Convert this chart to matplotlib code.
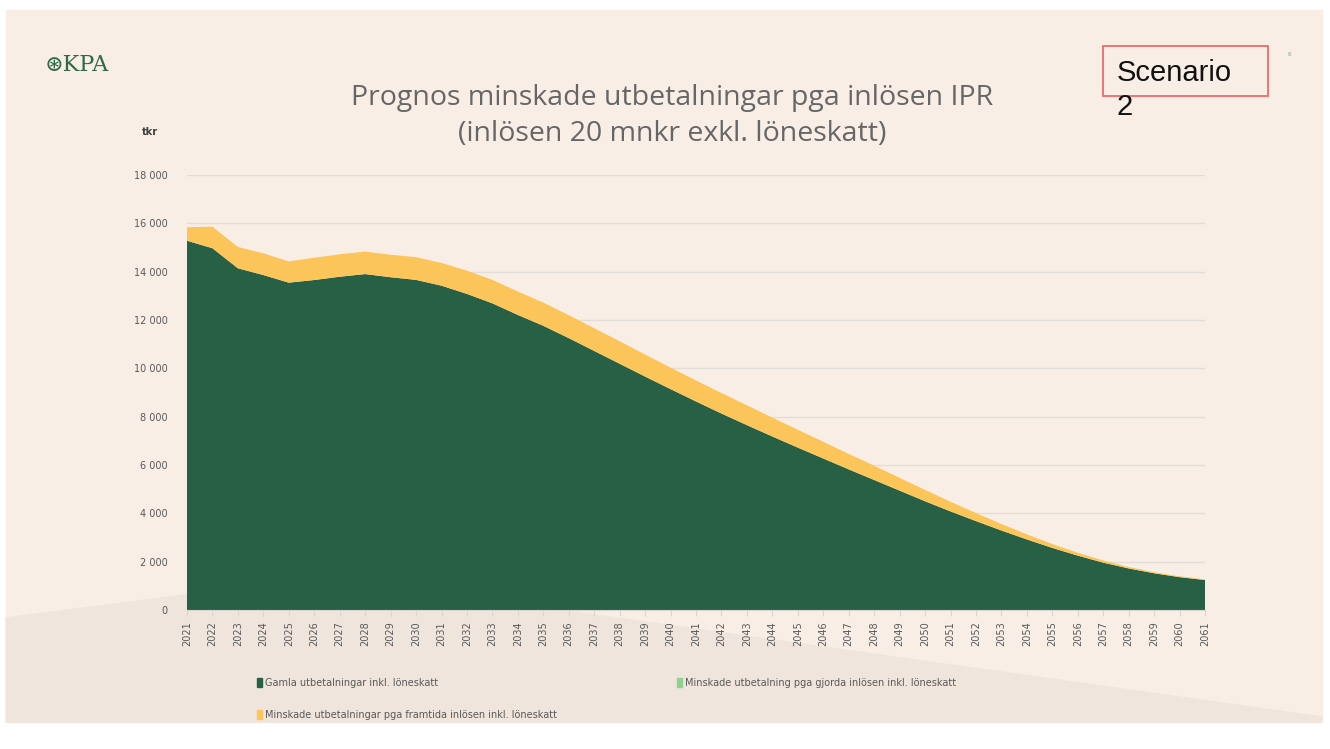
import matplotlib.pyplot as plt
import matplotlib.patches as mpatches
from matplotlib.ticker import FuncFormatter
import numpy as np

# Data (tkr)
years = [str(y) for y in range(2021, 2062)]
gamla = [15280, 14970, 14140, 13860, 13545, 13655, 13790, 13900, 13770, 13660,
         13420, 13080, 12690, 12210, 11760, 11250, 10720, 10190, 9660, 9140,
         8630, 8130, 7650, 7180, 6720, 6270, 5820, 5380, 4940, 4500,
         4080, 3680, 3290, 2920, 2570, 2250, 1960, 1720, 1520, 1360, 1240]
gjorda = [0] * 41
framtida = [560, 890, 880, 900, 880, 920, 930, 930, 930, 940,
            940, 960, 970, 970, 960, 950, 940, 930, 910, 890,
            870, 850, 820, 780, 740, 690, 640, 590, 530, 470,
            400, 330, 270, 210, 160, 120, 90, 60, 45, 35, 25]
labels = ['Gamla utbetalningar inkl. löneskatt',
          'Minskade utbetalning pga gjorda inlösen inkl. löneskatt',
          'Minskade utbetalningar pga framtida inlösen inkl. löneskatt']
colors = ['#276044', '#8FD18F', '#FCC55A']

W, H = 1330, 749
fig = plt.figure(figsize=(W / 100, H / 100), dpi=100)
fig.patch.set_facecolor('white')

# slide background
fig.patches.append(mpatches.Rectangle((6 / W, 1 - 722 / H), 1316 / W, 712 / H,
                                      transform=fig.transFigure, color='#F8EEE5', zorder=-2))
hill = [(6, 618), (325, 577), (1322, 717), (1322, 722), (6, 722)]
fig.patches.append(mpatches.Polygon([(x / W, 1 - y / H) for x, y in hill],
                                    transform=fig.transFigure, color='#EFE5DC', zorder=-1))

ax = fig.add_axes([187 / W, 1 - 610 / H, (1205 - 187) / W, (610 - 175) / H], zorder=2)
ax.set_facecolor('none')
x = np.arange(len(years))
ax.stackplot(x, gamla, gjorda, framtida, colors=colors, labels=labels, zorder=2)

ax.set_xlim(0, len(years) - 1)
ax.set_ylim(0, 18000)
ax.set_yticks(range(0, 18001, 2000))
ax.yaxis.set_major_formatter(FuncFormatter(lambda v, p: f'{v:,.0f}'.replace(',', ' ')))
ax.set_xticks(x)
ax.set_xticklabels(years, rotation=90)
ax.grid(axis='y', color='#E3DDD8', linewidth=1, zorder=0)
ax.set_axisbelow(True)
for s in ['top', 'right', 'left']:
    ax.spines[s].set_visible(False)
ax.spines['bottom'].set_color('#D9D5D0')
ax.tick_params(axis='y', length=0, pad=14, labelsize=7, labelcolor='#595959')
ax.tick_params(axis='x', length=4, color='#D9D5D0', pad=4, labelsize=7, labelcolor='#595959')
for t in ax.get_xticklabels() + ax.get_yticklabels():
    t.set_family(['Liberation Sans Narrow', 'DejaVu Sans'])

# texts
fig.text(672 / W, 1 - 116 / H, 'Prognos minskade utbetalningar pga inlösen IPR\n(inlösen 20 mnkr exkl. löneskatt)',
         ha='center', va='center', fontsize=20.5, color='#666666', family='Open Sans', linespacing=1.42)
fig.text(150 / W, 1 - 132 / H, 'tkr', ha='center', va='center', fontsize=7, color='#404040', weight='bold')
fig.text(45 / W, 1 - 65 / H, '⊛KPA', ha='left', va='center', fontsize=16, color='#2E6B45',
         family='DejaVu Serif')
fig.text(1289 / W, 1 - 55 / H, '6', ha='center', va='center', fontsize=4, color='#7FA88E')

fig.patches.append(mpatches.Rectangle((1103 / W, 1 - 96 / H), 165 / W, 50 / H, transform=fig.transFigure,
                                      fill=False, edgecolor='#F06A6A', linewidth=1.3, zorder=3))
fig.text(1117 / W, 1 - 90 / H, 'Scenario\n2', ha='left', va='center', fontsize=21, color='#111111',
         family='Liberation Sans', linespacing=1.25)

# legend: column-major order so rows read Gamla, gjorda / framtida
order = [0, 2, 1]
handles = [mpatches.Patch(color=colors[i]) for i in order]
leg = fig.legend(handles, [labels[i] for i in order], loc='upper left', bbox_to_anchor=(248 / W, 1 - 669 / H),
                 ncol=2, frameon=False, handlelength=0.5, handleheight=1.1, handletextpad=0.3,
                 columnspacing=12.4, labelspacing=2.3,
                 prop={'family': ['Liberation Sans Narrow', 'DejaVu Sans'], 'size': 7})
for t in leg.get_texts():
    t.set_color('#595959')

fig.savefig('out.png', dpi=100, facecolor=fig.get_facecolor())
